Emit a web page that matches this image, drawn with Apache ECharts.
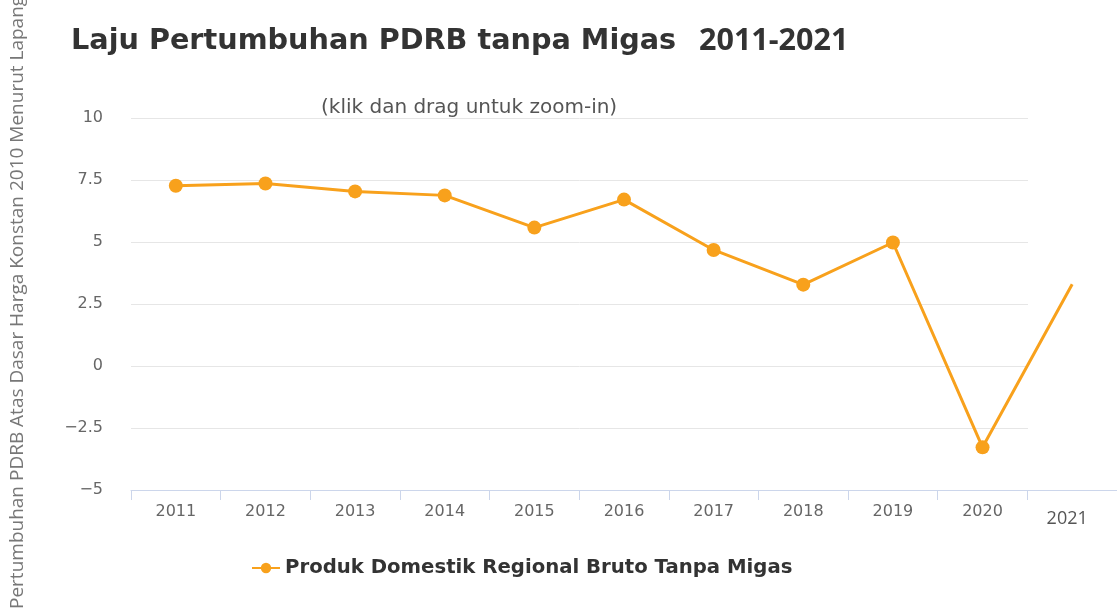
<!DOCTYPE html>
<html>
<head>
<meta charset="utf-8">
<script src="https://cdn.jsdelivr.net/npm/echarts@6/dist/echarts.min.js"></script>
<style>
  html, body { margin: 0; padding: 0; background: #fff; }
  #chart { width: 1117px; height: 610px; }
</style>
</head>
<body>
<div id="chart"></div>
<script>
// data
const years = ['2011', '2012', '2013', '2014', '2015', '2016', '2017', '2018', '2019', '2020', '2021']
const growth = [7.27, 7.36, 7.04, 6.88, 5.58, 6.71, 4.68, 3.28, 4.98, -3.28, 3.3]
const yTicks = { min: -5, max: 10, step: 2.5 }
const seriesName = 'Produk Domestik Regional Bruto Tanpa Migas'
const yName = 'Pertumbuhan PDRB Atas Dasar Harga Konstan 2010 Menurut Lapangan Usaha'

const orange = '#f8a11c'
const lastIdx = years.length - 1

const myChart = echarts.init(document.getElementById('chart'))

const option = {
  animation: false,
  backgroundColor: '#fff',
  title: [
    {
      text: 'Laju Pertumbuhan PDRB tanpa Migas',
      left: 66, top: 22,
      textStyle: { fontFamily: 'DejaVu Sans', fontWeight: 'bold', fontSize: 28.7, color: '#333' }
    },
    {
      text: '2011-2021',
      left: 694, top: 21,
      textStyle: { fontFamily: 'Open Sans', fontWeight: 'bold', fontSize: 30.5, color: '#333' }
    },
    {
      text: '(klik dan drag untuk zoom-in)',
      left: 316, top: 93,
      textStyle: { fontFamily: 'DejaVu Sans', fontWeight: 'normal', fontSize: 20, color: '#555' }
    }
  ],
  graphic: [
    {
      type: 'text', x: 18, y: 609, rotation: Math.PI / 2,
      style: {
        text: yName, fill: '#777',
        font: '19px "Open Sans"',
        textAlign: 'left', textVerticalAlign: 'middle'
      }
    }
  ],
  legend: {
    data: [seriesName],
    left: 246, top: 553,
    itemWidth: 28, itemHeight: 13, itemGap: 10,
    textStyle: { fontFamily: 'DejaVu Sans', fontWeight: 'bold', fontSize: 19.7, color: '#333' }
  },
  grid: [
    // whole category band, 2011..2021
    { left: 131, right: 0, top: 118, bottom: 120, outerBoundsMode: 'none' },
    // gridlines stop at the end of 2020
    { left: 131, right: 89, top: 118, bottom: 120, outerBoundsMode: 'none' }
  ],
  xAxis: [
    {
      type: 'category', gridIndex: 0, data: years, boundaryGap: true,
      axisLine: { onZero: false, lineStyle: { color: '#ccd6eb', width: 1 } },
      axisTick: { show: true, interval: 0, length: 10, lineStyle: { color: '#ccd6eb' } },
      splitLine: { show: false },
      axisLabel: {
        interval: 0,
        color: '#666', fontFamily: 'DejaVu Sans', fontSize: 16, margin: 14,
        formatter: (v, i) => i === lastIdx ? '{last|' + v + '}' : v,
        rich: {
          last: { fontFamily: 'Open Sans', fontSize: 18, color: '#555', padding: [6, 10, 0, 0] }
        }
      }
    },
    { type: 'category', gridIndex: 1, data: years.slice(0, lastIdx), show: false }
  ],
  yAxis: [
    {
      type: 'value', gridIndex: 0,
      min: yTicks.min, max: yTicks.max, interval: yTicks.step,
      axisLine: { show: false },
      axisTick: { show: false },
      splitLine: { show: false },
      axisLabel: {
        color: '#666', fontFamily: 'DejaVu Sans', fontSize: 16, margin: 28,
        formatter: v => String(v).replace('-', '\u2212')
      }
    },
    {
      type: 'value', gridIndex: 1,
      min: yTicks.min, max: yTicks.max, interval: yTicks.step,
      axisLine: { show: false },
      axisTick: { show: false },
      axisLabel: { show: false },
      splitLine: { lineStyle: { color: '#e6e6e6', width: 1 } }
    }
  ],
  series: [
    {
      name: seriesName, type: 'line',
      xAxisIndex: 0, yAxisIndex: 0,
      data: growth.map((v, i) => i === lastIdx ? { value: v, symbol: 'none' } : v),
      symbol: 'circle', symbolSize: 14,
      lineStyle: { color: orange, width: 3 },
      itemStyle: { color: orange }
    }
  ]
}

myChart.setOption(option)
window.addEventListener('resize', () => myChart.resize())
</script>
</body>
</html>
